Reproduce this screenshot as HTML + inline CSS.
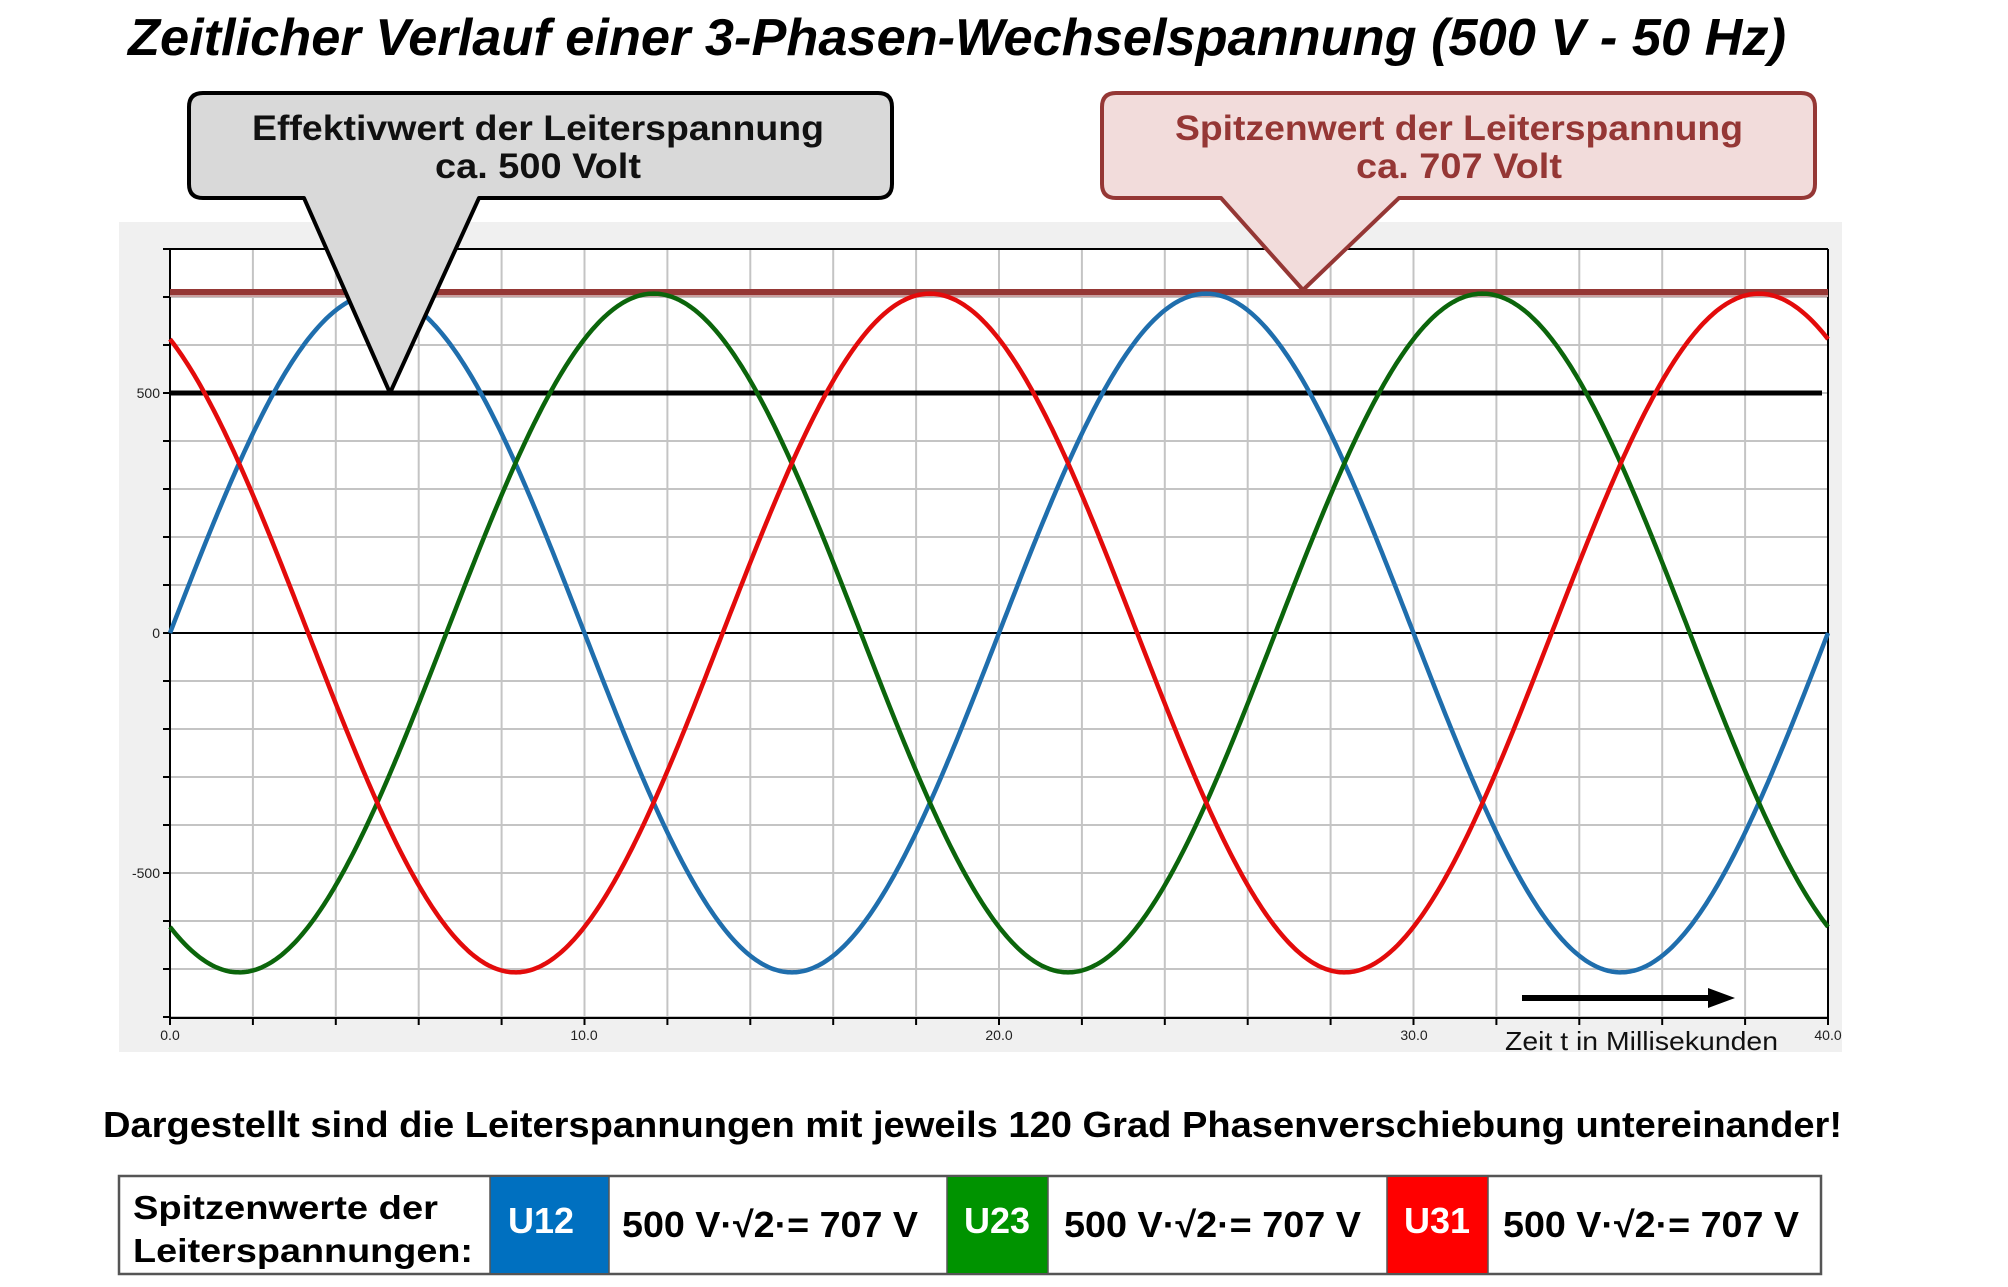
<!DOCTYPE html>
<html><head><meta charset="utf-8">
<style>html,body{margin:0;padding:0;background:#fff}svg{display:block}</style>
</head><body>
<svg id="s" width="2008" height="1287" viewBox="0 0 2008 1287" xmlns="http://www.w3.org/2000/svg" font-family="Liberation Sans, Arial, sans-serif">
<rect width="2008" height="1287" fill="#fff"/>
<text x="128" y="55" font-size="52" font-weight="bold" font-style="italic" textLength="1658" lengthAdjust="spacingAndGlyphs">Zeitlicher Verlauf einer 3-Phasen-Wechselspannung (500 V - 50 Hz)</text>
<rect x="119" y="222" width="1723" height="830" fill="#f0f0f0"/>
<rect x="170" y="249" width="1658" height="769" fill="#fff"/>
<g id="grid" stroke="#c4c4c4" stroke-width="2"></g>
<g id="ticks" stroke="#000" stroke-width="2"></g>
<line x1="170" y1="249" x2="1828" y2="249" stroke="#000" stroke-width="2"/>
<line x1="170" y1="633" x2="1828" y2="633" stroke="#000" stroke-width="2"/>
<line x1="170" y1="249" x2="170" y2="1018" stroke="#000" stroke-width="2"/>
<line x1="1828" y1="249" x2="1828" y2="1018" stroke="#000" stroke-width="2"/>
<line x1="170" y1="1018" x2="1828" y2="1018" stroke="#000" stroke-width="2"/>
<g font-size="14" fill="#222" text-anchor="end">
<text x="160" y="398">500</text><text x="160" y="638">0</text><text x="160" y="878">-500</text>
</g>
<g font-size="14" fill="#222" text-anchor="middle">
<text x="170" y="1040">0.0</text><text x="584" y="1040">10.0</text><text x="999" y="1040">20.0</text><text x="1414" y="1040">30.0</text><text x="1828" y="1040">40.0</text>
</g>
<line x1="170" y1="296" x2="1828" y2="296" stroke="#c9a0a0" stroke-width="2"/>
<line x1="170" y1="292" x2="1828" y2="292" stroke="#953735" stroke-width="6"/>
<line x1="170" y1="393" x2="1822" y2="393" stroke="#000" stroke-width="5"/>
<path id="pb" fill="none" stroke="#1f6ead" stroke-width="4.5"/>
<path id="pg" fill="none" stroke="#0b650b" stroke-width="4.5"/>
<path id="pr" fill="none" stroke="#e30b0b" stroke-width="4.5"/>
<line x1="1522" y1="998" x2="1712" y2="998" stroke="#000" stroke-width="6"/>
<polygon points="1708,988 1735,998 1708,1008" fill="#000"/>
<text x="1505" y="1050" font-size="26" fill="#111" textLength="273" lengthAdjust="spacingAndGlyphs">Zeit t in Millisekunden</text>
<!-- left callout -->
<path d="M203,93 H878 Q892,93 892,107 V184 Q892,198 878,198 H479 L390,393 L304,198 H203 Q189,198 189,184 V107 Q189,93 203,93 Z" fill="#d9d9d9" stroke="#000" stroke-width="4" stroke-linejoin="round"/>
<g font-size="35" font-weight="bold" fill="#111" text-anchor="middle">
<text x="538" y="140" textLength="572" lengthAdjust="spacingAndGlyphs">Effektivwert der Leiterspannung</text>
<text x="538" y="178" textLength="206" lengthAdjust="spacingAndGlyphs">ca. 500 Volt</text>
</g>
<!-- right callout -->
<path d="M1116,93 H1801 Q1815,93 1815,107 V184 Q1815,198 1801,198 H1399 L1303,290 L1221,198 H1116 Q1102,198 1102,184 V107 Q1102,93 1116,93 Z" fill="#f2dcdb" stroke="#953735" stroke-width="4" stroke-linejoin="round"/>
<g font-size="35" font-weight="bold" fill="#953735" text-anchor="middle">
<text x="1459" y="140" textLength="568" lengthAdjust="spacingAndGlyphs">Spitzenwert der Leiterspannung</text>
<text x="1459" y="178" textLength="206" lengthAdjust="spacingAndGlyphs">ca. 707 Volt</text>
</g>
<text x="103" y="1137" font-size="36" font-weight="bold" fill="#000" textLength="1739" lengthAdjust="spacingAndGlyphs">Dargestellt sind die Leiterspannungen mit jeweils 120 Grad Phasenverschiebung untereinander!</text>
<!-- table -->
<rect x="119" y="1176" width="1702" height="98" fill="#fff" stroke="#555" stroke-width="2.5"/>
<rect x="490" y="1177" width="119" height="96" fill="#0070c0"/>
<rect x="947" y="1177" width="101" height="96" fill="#009300"/>
<rect x="1387" y="1177" width="101" height="96" fill="#ff0000"/>
<g stroke="#555" stroke-width="1.5"><line x1="490" y1="1176" x2="490" y2="1274"/><line x1="609" y1="1176" x2="609" y2="1274"/><line x1="947" y1="1176" x2="947" y2="1274"/><line x1="1048" y1="1176" x2="1048" y2="1274"/><line x1="1387" y1="1176" x2="1387" y2="1274"/><line x1="1488" y1="1176" x2="1488" y2="1274"/></g>
<g font-size="33" font-weight="bold" fill="#000">
<text x="133" y="1219" textLength="305" lengthAdjust="spacingAndGlyphs">Spitzenwerte der</text>
<text x="133" y="1262" textLength="340" lengthAdjust="spacingAndGlyphs">Leiterspannungen:</text>
</g>
<g font-size="36" font-weight="bold" fill="#fff" text-anchor="middle">
<text x="541" y="1233">U12</text><text x="997" y="1233">U23</text><text x="1437" y="1233">U31</text>
</g>
<g font-size="36" font-weight="bold" fill="#000">
<text x="622" y="1237" textLength="296" lengthAdjust="spacingAndGlyphs">500 V·√2·= 707 V</text>
<text x="1064" y="1237" textLength="297" lengthAdjust="spacingAndGlyphs">500 V·√2·= 707 V</text>
<text x="1503" y="1237" textLength="296" lengthAdjust="spacingAndGlyphs">500 V·√2·= 707 V</text>
</g>
</svg>
<script>
(function(){
var NS="http://www.w3.org/2000/svg";
var g=document.getElementById('grid'),t=document.getElementById('ticks');
function ln(p,x1,y1,x2,y2){var l=document.createElementNS(NS,'line');l.setAttribute('x1',x1);l.setAttribute('y1',y1);l.setAttribute('x2',x2);l.setAttribute('y2',y2);p.appendChild(l);}
var px=1658/40;
for(var i=1;i<20;i++){var x=170+i*2*px;ln(g,x,249,x,1018);ln(t,x,1018,x,1025);}
ln(t,170,1018,170,1025);ln(t,1828,1018,1828,1025);
for(var v=-800;v<=800;v+=100){var y=633-v*0.48;ln(g,170,y,1828,y);ln(t,163,y,170,y);}
function path(ph){var d='';for(var k=0;k<=1658;k+=2){var tm=k/px;var y=633-707*0.48*Math.sin(2*Math.PI*50*tm/1000+ph);d+=(k?'L':'M')+(170+k)+','+y.toFixed(1);}return d;}
document.getElementById('pb').setAttribute('d',path(0));
document.getElementById('pg').setAttribute('d',path(-2*Math.PI/3));
document.getElementById('pr').setAttribute('d',path(2*Math.PI/3));
})();
</script>
</body></html>
